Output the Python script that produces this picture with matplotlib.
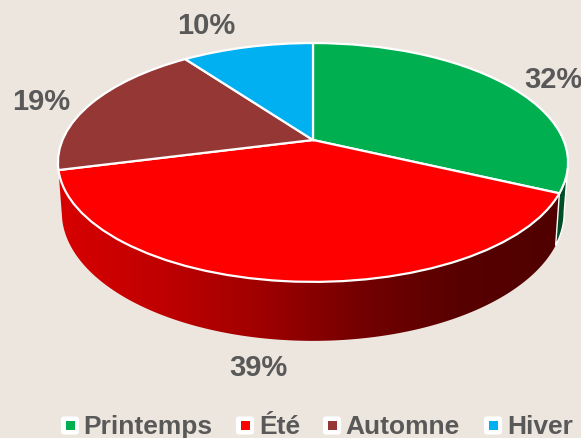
import numpy as np
import matplotlib
matplotlib.use("Agg")
import matplotlib.pyplot as plt
from matplotlib.colors import LinearSegmentedColormap
from matplotlib.patches import FancyBboxPatch, Polygon, Rectangle
from matplotlib.transforms import Transform

categories = ["Printemps", "Été", "Automne", "Hiver"]
values = [32, 39, 19, 10]
colors = ["#00B050", "#FF0000", "#953735", "#00B0F0"]

W, H = 581, 438
BG = "#EDE6DF"
TXT = "#595959"
FONT = "Liberation Sans"
cx, cy = 313, 140       # pixel position of the pie's centre
A, B, K = 115.2, 250.5, 0.188   # perspective of the tilted disc
depth_front = 59
x_shrink = 0.985


class Tilt(Transform):
    """Perspective view of the unit disc, to pixel coordinates."""
    input_dims = output_dims = 2
    is_separable = False
    has_inverse = False

    def transform_non_affine(self, values):
        v = np.asarray(values, dtype=float)
        d = 1 + K * v[:, 1]
        return np.c_[cx + B * v[:, 0] / d, cy - A * v[:, 1] / d]


fig = plt.figure(figsize=(W / 100, H / 100), dpi=100, facecolor=BG)
ax = fig.add_axes([0, 0, 1, 1])

wedges, _ = ax.pie(values, colors=colors, startangle=90, counterclock=False,
                   radius=1, wedgeprops=dict(edgecolor="white", linewidth=1.6))
tilt = Tilt()
for w in wedges:
    w.set_transform(tilt + ax.transData)
    w.set_zorder(3)

ax.set_aspect("auto")
ax.set_xlim(0, W)
ax.set_ylim(H, 0)
ax.axis("off")

bounds = 90 - np.cumsum([0] + values) * 3.6


def rim(deg, lower=False):
    a = np.radians(deg)
    u, v = np.cos(a), np.sin(a)
    d = 1 + K * v
    x = B * u / d
    y = cy - A * v / d
    if lower:
        return np.c_[cx + x_shrink * x, y + depth_front * (1 - K) / d]
    return np.c_[cx + x, y]


# Side wall of the red slice, with horizontal gradient
a_right, a_left = bounds[1], bounds[2]
red_params = np.linspace(a_right, a_left, 240)
red_wall = Polygon(np.r_[rim(red_params), rim(red_params[::-1], True)],
                   closed=True, fc="none", ec="none")
ax.add_patch(red_wall)
cmap = LinearSegmentedColormap.from_list(
    "wall", ["#D80000", "#C00000", "#A00000", "#740000", "#580000", "#500000"])
grad = np.linspace(0, 1, 256)[None, :]
im = ax.imshow(grad, extent=(58, 560, H, 0), cmap=cmap, aspect="auto", zorder=1)
im.set_clip_path(red_wall)
ax.set_aspect("auto")
ax.set_xlim(0, W)
ax.set_ylim(H, 0)

# Side wall of the green slice (visible up to the tangent of the silhouette)
green_params = np.linspace(a_right, np.degrees(np.arcsin(-K)), 40)
ax.add_patch(Polygon(np.r_[rim(green_params), rim(green_params[::-1], True)],
                     closed=True, fc="#004D26", ec="white", lw=1, zorder=2))

# Percentage labels
for val, (x, y) in zip(values, [(553, 80), (258, 368), (41, 102), (206, 26)]):
    ax.text(x, y, f"{val}%", ha="center", va="center", color=TXT, fontsize=21,
            fontweight="bold", family=FONT, zorder=5)

# Legend
for name, col, bx, tx in zip(categories, colors, [61, 236, 323, 484], [83, 259, 345, 507]):
    ax.add_patch(FancyBboxPatch((bx + 1, 417.5), 16, 16,
                                boxstyle="round,pad=0,rounding_size=2",
                                fc="white", ec="white", lw=1.5, zorder=5))
    ax.add_patch(Rectangle((bx + 5, 421), 9, 9, fc=col, ec="none", zorder=6))
    ax.text(tx, 434, name, ha="left", va="baseline", color=TXT, fontsize=19,
            fontweight="bold", family=FONT, zorder=5)

fig.savefig("out.png", dpi=100, facecolor=BG)
